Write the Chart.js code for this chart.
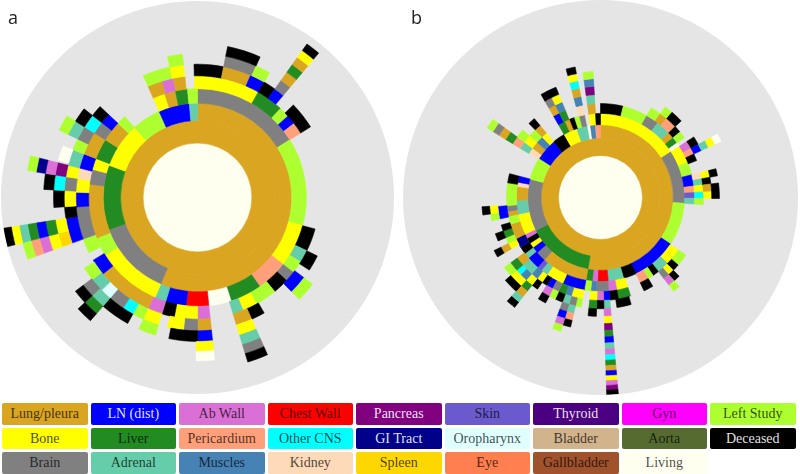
<!DOCTYPE html>
<html>
<head>
<meta charset="utf-8">
<script src="https://cdn.jsdelivr.net/npm/chart.js@4/dist/chart.umd.min.js"></script>
<style>
html, body { margin: 0; background: #fff; }
canvas { position: absolute; border-radius: 50%; background: #e5e5e5; }
#chartA { left: 1px; top: 1px; }
#chartB { left: 403px; top: 0; }
.panel { position: absolute; top: 5px; font: 18px "Open Sans", sans-serif; color: #222; }
#legend { position: absolute; left: 2px; top: 403px; display: grid; grid-template-columns: repeat(9, 85.5px); grid-auto-rows: 21.5px; gap: 3px; }
#legend div { border-radius: 2px; text-align: center; font: 14px/21px "Liberation Serif", serif; color: rgba(0,0,0,.72); }
</style>
</head>
<body>
<canvas id="chartA" width="393" height="393"></canvas>
<canvas id="chartB" width="395" height="395"></canvas>
<div class="panel" style="left:8px">a</div>
<div class="panel" style="left:411px">b</div>
<div id="legend"></div>
<script>
// Legend order is row by row, same as the picture
const categories = ['Lung/pleura', 'LN (dist)', 'Ab Wall', 'Chest Wall', 'Pancreas', 'Skin', 'Thyroid', 'Gyn', 'Left Study',
    'Bone', 'Liver', 'Pericardium', 'Other CNS', 'GI Tract', 'Oropharynx', 'Bladder', 'Aorta', 'Deceased',
    'Brain', 'Adrenal', 'Muscles', 'Kidney', 'Spleen', 'Eye', 'Gallbladder', 'Living'];
const colors = ['#daa520', '#0000ff', '#da70d6', '#ff0000', '#800080', '#6a5acd', '#4b0082', '#ff00ff', '#adff2f',
    '#ffff00', '#228b22', '#ffa07a', '#00ffff', '#00008b', '#e0ffff', '#d2b48c', '#556b2f', '#000000',
    '#808080', '#66cdaa', '#4682b4', '#ffdab9', '#ffd700', '#ff7f50', '#a0522d', '#fffff0'];
const whiteText = ['LN (dist)', 'Pancreas', 'Thyroid', 'GI Tract', 'Deceased'];

const LU = 'Lung/pleura', LN = 'LN (dist)', AB = 'Ab Wall', CW = 'Chest Wall', PA = 'Pancreas', SK = 'Skin',
    LS = 'Left Study', BO = 'Bone', LI = 'Liver', PE = 'Pericardium', CN = 'Other CNS', GI = 'GI Tract',
    OR = 'Oropharynx', DE = 'Deceased', BR = 'Brain', AD = 'Adrenal', MU = 'Muscles', KI = 'Kidney',
    SP = 'Spleen', IV = 'Living', __ = null;

// Each level is a list of [category, share of the circle in degrees], read clockwise from the top.
// null = no patient there. Whatever is left up to 360 is empty too.
const a1 = [[LU, 360]];
const a2 = [[LU, 203], [BR, 47], [LI, 40], [BO, 28], [LS, 18], [LN, 19], [AD, 5]];
const a3 = [[BR, 58], [LS, 47], [BO, 23], [PE, 17], [LI, 17], [IV, 12], [CW, 12], [LN, 11], [AD, 6], [BO, 35], [LS, 10], [LU, 29], [BR, 8], [BO, 6], [LI, 11], [LU, 11], [LS, 5], [__, 18], [BO, 6.5], [LU, 5.8], [LI, 6.4], [LS, 5.3]];
const a4 = [[BO, 30], [LI, 13], [LS, 5], [LN, 4.5], [PE, 5.5], [__, 47], [DE, 11], [AD, 6], [LS, 6], [BR, 5], [DE, 7.6], [LS, 10.4], [BO, 7], [AD, 5], [__, 11], [AB, 6], [BO, 11], [DE, 6], [AB, 7], [LU, 27], [LN, 8], [__, 4], [LS, 7], [BR, 15.5], [LN, 7], [BO, 6.5], [KI, 5], [LN, 7], [LU, 11], [BR, 6], [LN, 5], [__, 23], [LU, 7], [AB, 5.5], [LU, 5.5], [__, 4.5], [BO, 1.5]];
const a5 = [[DE, 11.3], [LU, 12.2], [LN, 6.5], [DE, 5.5], [LN, 4.5], [__, 6], [DE, 12], [__, 58], [DE, 7], [__, 4], [LN, 8], [__, 15], [DE, 6], [LU, 7], [__, 11], [LU, 6], [BR, 6], [BO, 7], [__, 4], [BO, 7], [LS, 5], [CN, 5], [BR, 7], [OR, 5], [AD, 6], [LS, 6], [__, 12], [LN, 11], [DE, 5], [BO, 7], [BR, 6], [BO, 5], [AD, 7], [LS, 5], [BR, 6], [CN, 6], [DE, 5], [__, 23], [LS, 12], [BO, 6], [__, 4.5], [DE, 1.5]];
const a6 = [[__, 11.3], [BR, 12.7], [LS, 6], [__, 5.5], [BR, 4.5], [__, 87], [LS, 8], [__, 21], [BO, 7], [__, 11], [LN, 6], [DE, 11.5], [__, 5.5], [LS, 7], [__, 5], [DE, 12], [AD, 6], [BR, 5.5], [__, 17.5], [SP, 5.5], [BO, 5.5], [__, 5], [DE, 7], [CN, 6], [PA, 5], [__, 1], [IV, 6], [__, 5], [AD, 6], [DE, 6], [__, 40], [LS, 6]];
const a7 = [[__, 11.3], [DE, 12.7], [__, 11.5], [LU, 4.5], [__, 116], [AD, 7], [__, 11], [BO, 6.5], [__, 40.5], [LI, 6], [DE, 5.5], [__, 17.5], [BO, 5.5], [LI, 5.5], [__, 12], [DE, 6], [AB, 5], [__, 12], [LS, 6]];
const a8 = [[__, 35.5], [LI, 4.5], [__, 116], [BR, 7], [__, 11], [IV, 6.5], [__, 40.5], [DE, 6], [__, 23], [AB, 5.5], [LN, 5.5], [__, 18], [GI, 5]];
const a9 = [[__, 35.5], [LU, 4.5], [__, 116], [DE, 7], [__, 87], [PE, 5.5], [LI, 5.5], [__, 18], [LS, 5]];
const a10 = [[__, 35.5], [BO, 4.5], [__, 210], [LS, 5.5], [AD, 5.5]];
const a11 = [[__, 35.5], [DE, 4.5], [__, 215.5], [BO, 5.5]];
const a12 = [[__, 255.5], [DE, 5.5]];

const b1 = [[LU, 360]];
const b2 = [[LU, 190], [LI, 53], [BR, 41.7], [LS, 17.9], [LN, 17.4], [DE, 10], [BO, 11], [AD, 8.8], [IV, 2.2], [MU, 4], [PE, 4]];
const b3 = [[BO, 57], [BR, 37], [LS, 29.6], [LN, 31.4], [DE, 9], [AD, 10.7], [CW, 7.3], [AB, 3.6], [LI, 4.4], [LU, 32], [BR, 7], [LN, 4.5], [BO, 3.5], [DE, 4], [AB, 3], [BO, 14.5], [AD, 9.5], [LU, 9.5], [KI, 3], [LN, 4.2], [__, 16.8], [KI, 4.5], [LU, 5], [MU, 5], [BO, 4], [__, 10], [LI, 5], [LU, 3.5], [DE, 3.5], [LS, 3.5], [BR, 3.5], [__, 3], [BO, 4.6], [DE, 3.4]];
const b4 = [[DE, 14], [LS, 15.5], [BR, 8], [AD, 9], [LU, 4], [LI, 4], [IV, 2.5], [BO, 11], [LS, 8], [LN, 7], [PE, 4], [SK, 3.5], [AD, 3.5], [__, 30], [BO, 10.5], [AD, 7.5], [DE, 4], [LS, 3.5], [PE, 5.5], [__, 8], [BO, 7], [AB, 5], [BR, 7.5], [MU, 3.5], [LS, 4], [LN, 13.7], [BO, 11], [AD, 4.3], [SK, 3], [LN, 8], [AD, 3.5], [DE, 4.5], [GI, 6], [LU, 9.5], [LS, 5], [LU, 3], [BR, 3.5], [LS, 14], [DE, 5.7], [__, 16.8], [AD, 4.5], [BO, 5], [LS, 5], [LU, 4], [__, 10], [LN, 4], [LI, 4], [__, 7], [KI, 4], [__, 3], [LU, 4.6]];
const b5 = [[__, 29.5], [LS, 6], [LU, 4.5], [PE, 6.5], [DE, 4], [LS, 4], [__, 2.5], [AB, 4.5], [PE, 3.5], [DE, 4], [__, 7], [KI, 3.5], [AD, 3.5], [BO, 4], [CN, 3.5], [LS, 3.5], [__, 30], [LS, 7], [DE, 4], [BO, 3.5], [BR, 3.5], [__, 7.5], [DE, 5.5], [__, 8], [LI, 7], [DE, 4.8], [LN, 3.4], [AB, 3.8], [BO, 4], [__, 4], [BO, 6.5], [MU, 3.5], [LI, 4], [BR, 4], [LN, 3.5], [DE, 3], [BO, 3.5], [MU, 4], [AD, 7], [LU, 5], [__, 6], [BO, 3.5], [LS, 3.5], [LI, 4], [DE, 3.5], [__, 3.5], [LN, 7], [__, 36.5], [PE, 4.5], [LS, 5], [__, 5], [DE, 4], [__, 10], [LU, 4], [MU, 4], [__, 7], [MU, 4], [__, 3], [AD, 4.6]];
const b6 = [[__, 35.5], [LS, 4.5], [DE, 6.5], [__, 10.5], [DE, 4.5], [LN, 3.5], [__, 11], [BO, 3.5], [DE, 3.5], [LU, 4], [BO, 3.5], [__, 44.5], [DE, 3.5], [AB, 3.5], [__, 22], [DE, 7.5], [__, 3.3], [AD, 3.4], [DE, 3.8], [LI, 4], [__, 4], [LS, 3], [BR, 3.5], [AD, 3.5], [DE, 4], [LS, 3.5], [AB, 4], [__, 3], [DE, 3.5], [BO, 4], [MU, 4], [CN, 3], [LI, 5], [__, 6], [LU, 3.5], [__, 3.5], [DE, 4], [__, 7], [LS, 3.5], [BO, 4], [__, 36], [LI, 4.5], [__, 24], [BR, 4], [BO, 4], [__, 7], [LU, 4], [__, 3], [PA, 4.6]];
const b7 = [[__, 61.5], [AD, 3.5], [__, 11], [DE, 3.5], [__, 3.5], [DE, 7.5], [__, 48], [LS, 3.5], [__, 32.8], [AB, 3.4], [__, 3.8], [DE, 4], [__, 7], [AD, 3.5], [BR, 3.5], [__, 7.5], [DE, 4], [__, 6.5], [LI, 4], [BO, 7], [LS, 5], [__, 6], [DE, 3.5], [__, 18], [DE, 4], [__, 36], [LU, 4.5], [__, 24], [DE, 8], [__, 7], [CN, 4], [__, 3], [MU, 4.6]];
const b8 = [[__, 61.5], [BO, 3.5], [__, 109.8], [BO, 3.4], [__, 14.8], [PE, 3.5], [LN, 3.5], [__, 18], [LU, 4], [DE, 7], [__, 72.5], [BR, 4.5], [__, 39], [BO, 4], [__, 3], [LS, 4.6]];
const b9 = [[__, 61.5], [IV, 3.5], [__, 109.8], [PA, 3.4], [__, 14.8], [DE, 3.5], [AB, 3.5], [__, 18], [AD, 4], [__, 79.5], [LS, 4.5], [__, 39], [DE, 4]];
const b10 = [[__, 174.8], [LI, 3.4], [__, 18.3], [LS, 3.5], [__, 18], [DE, 4]];
const b11 = [[__, 174.8], [LN, 3.4]];
const b12 = [[__, 174.8], [AD, 3.4]];
const b13 = [[__, 174.8], [AB, 3.4]];
const b14 = [[__, 174.8], [CN, 3.4]];
const b15 = [[__, 174.8], [LI, 3.4]];
const b16 = [[__, 174.8], [LU, 3.4]];
const b17 = [[__, 174.8], [LN, 3.4]];
const b18 = [[__, 174.8], [BO, 3.4]];
const b19 = [[__, 174.8], [AB, 3.4]];
const b20 = [[__, 174.8], [PA, 3.4]];
const b21 = [[__, 174.8], [DE, 3.4]];

const levelsA = [a1, a2, a3, a4, a5, a6, a7, a8, a9, a10, a11, a12];
const levelsB = [b1, b2, b3, b4, b5, b6, b7, b8, b9, b10, b11, b12, b13, b14, b15, b16, b17, b18, b19, b20, b21];

function colorOf(cat) {
    return cat ? colors[categories.indexOf(cat)] : 'transparent';
}

// One dataset per level. Ring width shrinks outward so each ring has the same area.
function buildDatasets(levels) {
    const rings = [[[IV, 360]]].concat(levels);
    const n = rings.length;
    const sets = rings.map(function(level, k) {
        const sizes = level.map(s => s[1]);
        const used = sizes.reduce((t, v) => t + v, 0);
        const cols = level.map(s => colorOf(s[0]));
        if (used < 360) {
            sizes.push(360 - used);
            cols.push('transparent');
        }
        return {
            data: sizes,
            backgroundColor: cols,
            borderColor: cols, // same colour, closes the hairline seams between rings
            borderWidth: 0.6,
            weight: Math.sqrt((k + 1) / n) - Math.sqrt(k / n)
        };
    });
    return sets.reverse(); // dataset 0 is the outer ring in Chart.js
}

function drawSunburst(id, levels) {
    return new Chart(document.getElementById(id), {
        type: 'doughnut',
        data: { datasets: buildDatasets(levels) },
        options: {
            responsive: false,
            animation: false,
            cutout: 0,
            layout: { padding: 0 },
            plugins: { legend: { display: false }, tooltip: { enabled: false } }
        }
    });
}

drawSunburst('chartA', levelsA);
drawSunburst('chartB', levelsB);

const legend = document.getElementById('legend');
categories.forEach(function(name, i) {
    const box = document.createElement('div');
    box.textContent = name;
    box.style.background = colors[i];
    if (whiteText.includes(name)) box.style.color = 'rgba(255,255,255,.9)';
    legend.appendChild(box);
});
</script>
</body>
</html>
